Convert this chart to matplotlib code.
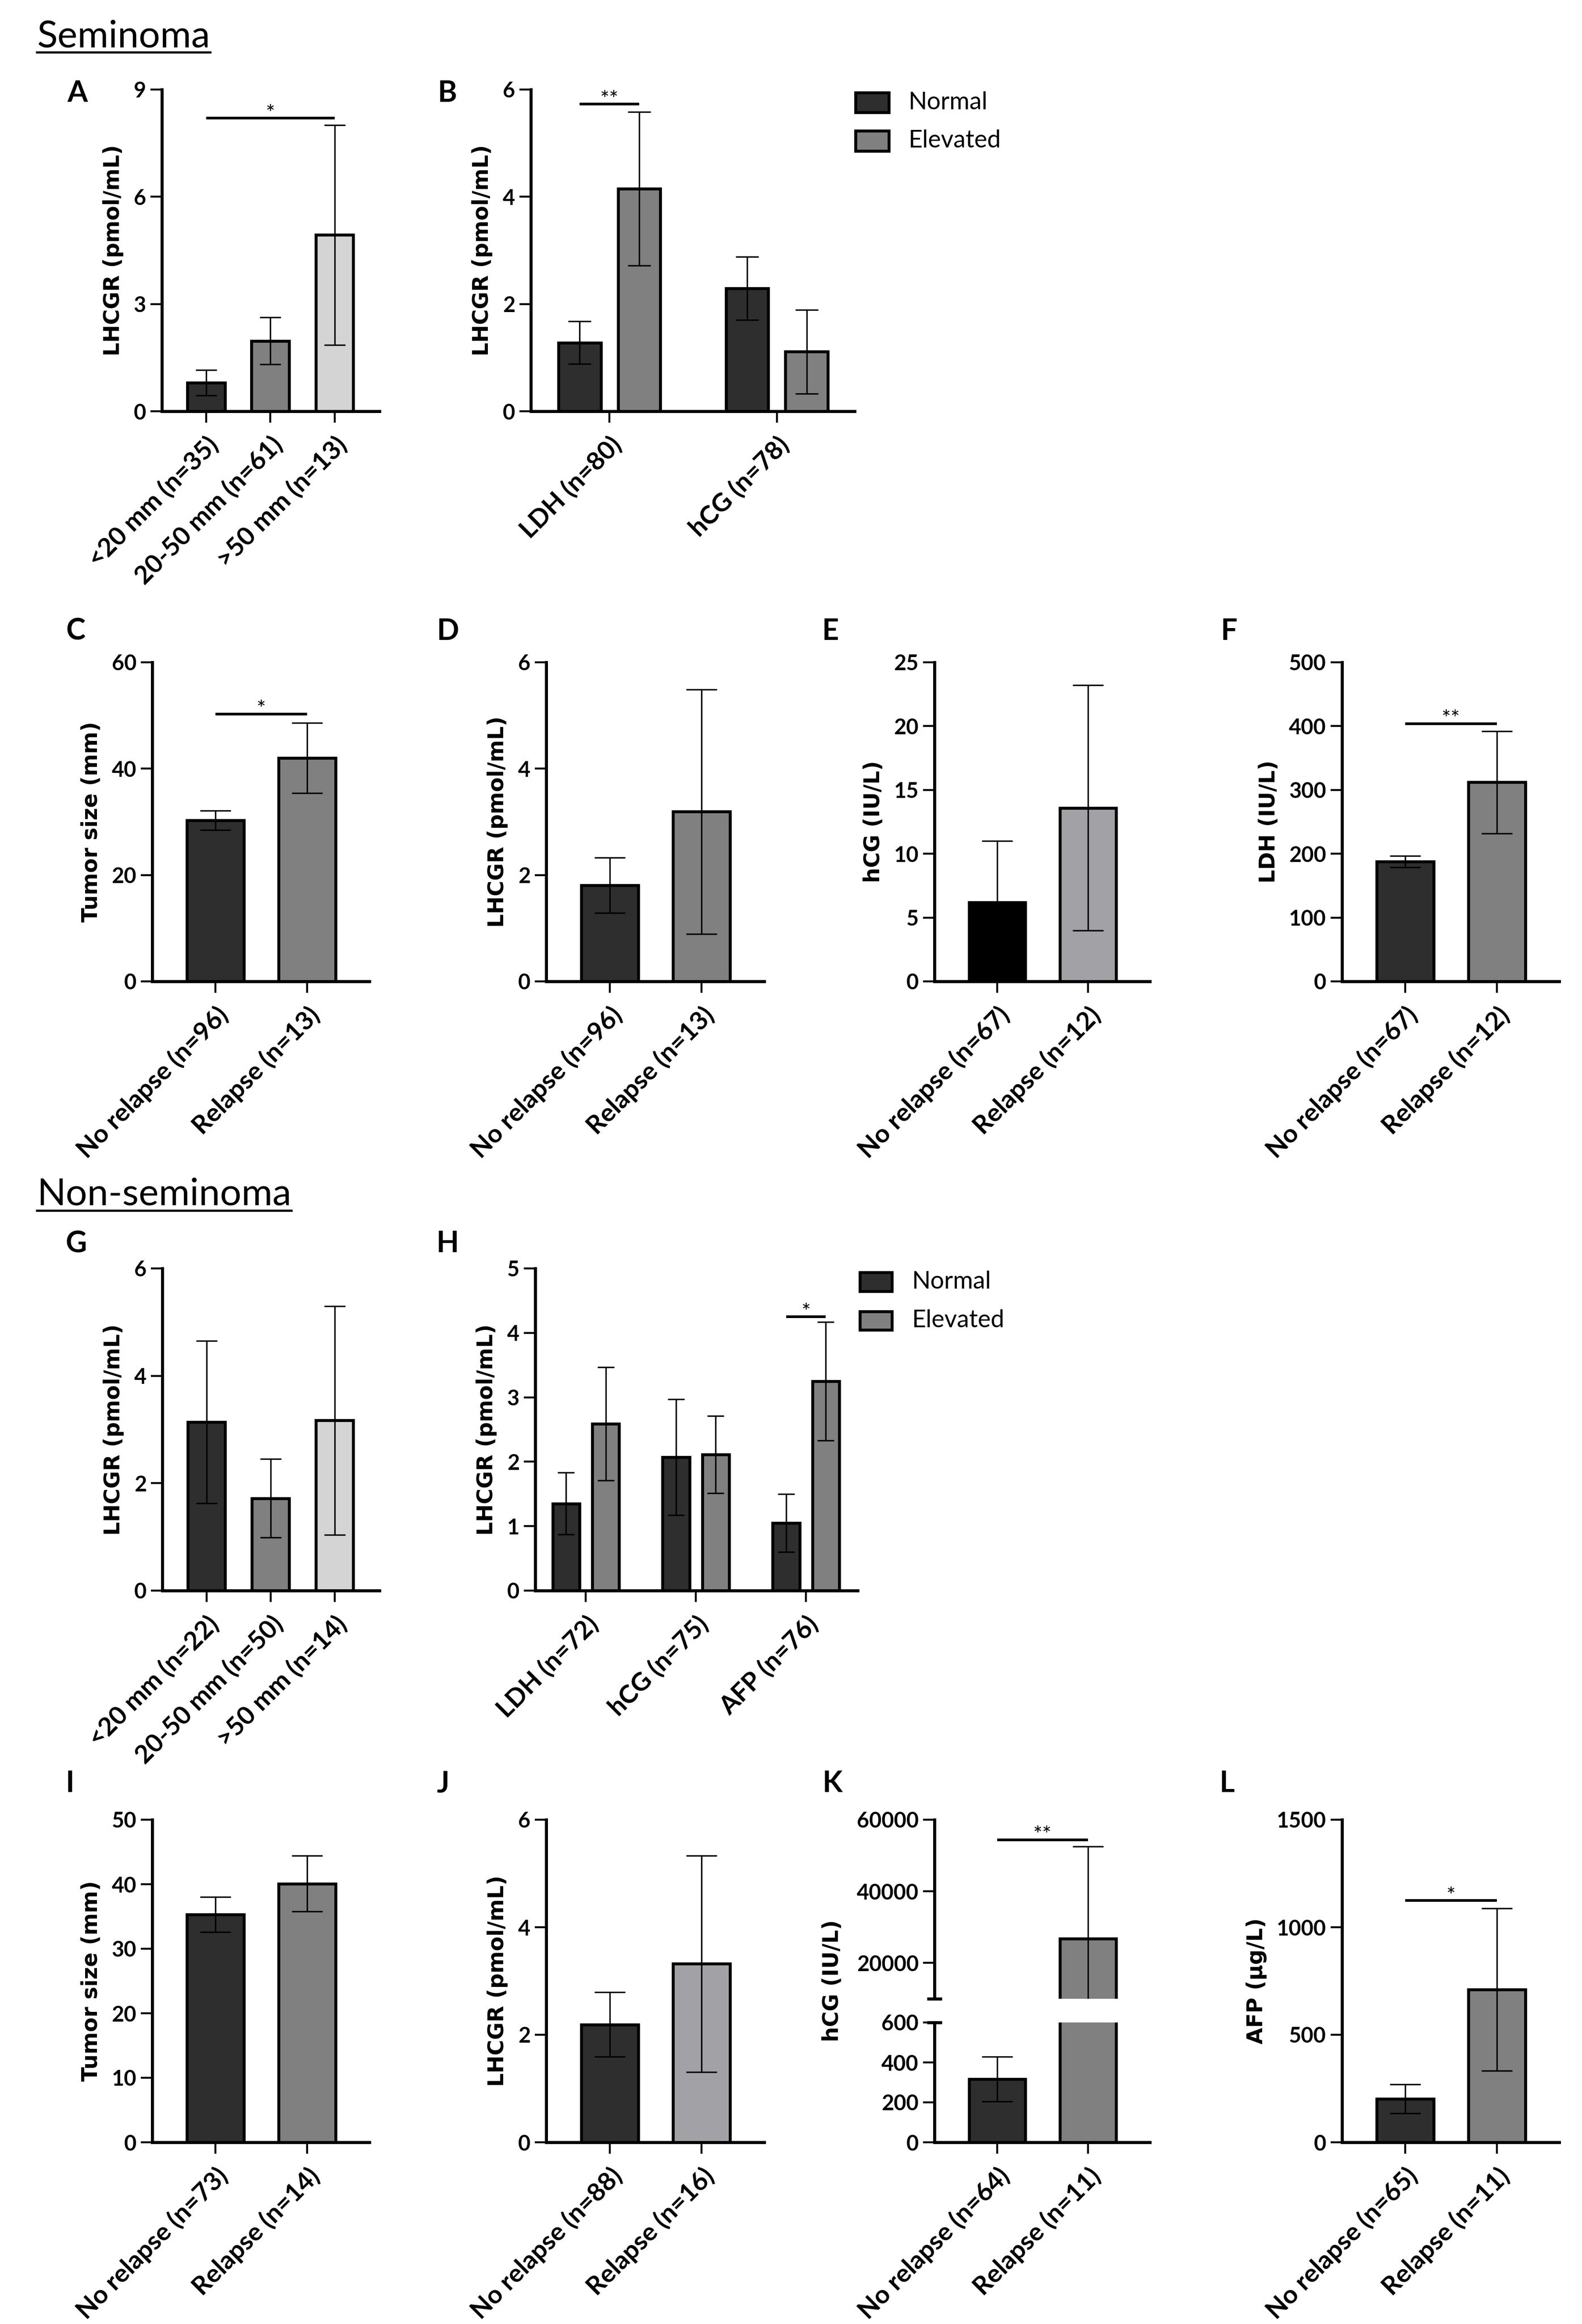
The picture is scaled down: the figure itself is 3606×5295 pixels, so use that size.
import matplotlib
matplotlib.use('Agg')
import matplotlib.pyplot as plt
from matplotlib.patches import Rectangle
from matplotlib.lines import Line2D
import numpy as np

# ------------------------------------------------------------------ data
A_cats = ['<20 mm (n=35)', '20-50 mm (n=61)', '>50 mm (n=13)']
A_mean = [0.80, 1.97, 4.93]
A_err = [0.36, 0.66, 3.08]

B_groups = ['LDH (n=80)', 'hCG (n=78)']
B_normal = [1.28, 2.29]
B_normal_err = [0.40, 0.59]
B_elev = [4.15, 1.11]
B_elev_err = [1.43, 0.78]

C_cats = ['No relapse (n=96)', 'Relapse (n=13)']
C_mean = [30.3, 42.0]
C_err = [1.8, 6.6]

D_cats = ['No relapse (n=96)', 'Relapse (n=13)']
D_mean = [1.81, 3.19]
D_err = [0.52, 2.30]

E_cats = ['No relapse (n=67)', 'Relapse (n=12)']
E_mean = [6.2, 13.6]
E_err = [4.8, 9.6]

F_cats = ['No relapse (n=67)', 'Relapse (n=12)']
F_mean = [188, 312]
F_err = [9, 80]

G_cats = ['<20 mm (n=22)', '20-50 mm (n=50)', '>50 mm (n=14)']
G_mean = [3.14, 1.72, 3.17]
G_err = [1.51, 0.73, 2.13]

H_groups = ['LDH (n=72)', 'hCG (n=75)', 'AFP (n=76)']
H_normal = [1.35, 2.07, 1.05]
H_normal_err = [0.48, 0.90, 0.45]
H_elev = [2.59, 2.11, 3.25]
H_elev_err = [0.88, 0.60, 0.92]

I_cats = ['No relapse (n=73)', 'Relapse (n=14)']
I_mean = [35.3, 40.1]
I_err = [2.7, 4.3]

J_cats = ['No relapse (n=88)', 'Relapse (n=16)']
J_mean = [2.19, 3.32]
J_err = [0.60, 2.01]

K_cats = ['No relapse (n=64)', 'Relapse (n=11)']
K_mean = [316, 26750]
K_err = [112, 25800]

L_cats = ['No relapse (n=65)', 'Relapse (n=11)']
L_mean = [202, 710]
L_err = [67, 378]

# significance: (first index, second index, y, label)
A_sig = (0, 2, 8.2, '*')
B_sig = (0, 5.73, '**')      # group index, y, label (normal vs elevated)
C_sig = (0, 1, 50.3, '*')
F_sig = (0, 1, 404, '**')
H_sig = (2, 4.25, '*')
K_sig = (0, 1, 54400, '**')
L_sig = (0, 1, 1124, '*')

legend_labels = ['Normal', 'Elevated']

# ------------------------------------------------------------------ style
W, H = 3606, 5295
DPI = 100
DARK = '#2e2e2e'
MID = '#808080'
LIGHT = '#d4d4d4'
LIGHT2 = '#a2a2a6'
BLACK = '#000000'

SPINE_LW = 5.0
BAR_LW = 4.8
EB_LW = 2.4
SIG_LW = 4.4
TICK_LEN = 19
TICK_W = 3.2

YT_FONT = dict(family='Lato', size=35, weight='bold')
XT_FONT = dict(family='Lato', size=42, weight='bold')
YL_FONT = dict(family='DejaVu Sans', size=35, weight='bold')
PANEL_FONT = dict(family='Lato', size=48, weight='bold')
STAR_FONT = dict(family='Lato', size=36)

fig = plt.figure(figsize=(W / DPI, H / DPI), dpi=DPI)
fig.patch.set_facecolor('white')


def px_axes(l, r, t, b):
    return fig.add_axes([l / W, 1 - b / H, (r - l) / W, (b - t) / H])


def finish(ax, xpos, labels, yticks, ylabel, xlim, show_x=True):
    ax.set_xlim(*xlim)
    ax.set_ylim(yticks[0], yticks[-1])
    ax.set_yticks(yticks)
    ax.set_yticklabels([f'{t:g}' for t in yticks])
    for t in ax.get_yticklabels():
        t.set_fontfamily(YT_FONT['family'])
        t.set_fontsize(YT_FONT['size'])
        t.set_fontweight(YT_FONT['weight'])
    for s in ['top', 'right']:
        ax.spines[s].set_visible(False)
    for s in ['left', 'bottom']:
        ax.spines[s].set_linewidth(SPINE_LW)
        ax.spines[s].set_capstyle('projecting')
    ax.tick_params(axis='both', direction='out', length=TICK_LEN, width=TICK_W,
                   color='black', pad=7)
    if show_x:
        ax.set_xticks(xpos)
        ax.set_xticklabels(labels, rotation=45, ha='right', va='top',
                           rotation_mode='anchor', fontfamily=XT_FONT['family'],
                           fontsize=XT_FONT['size'], fontweight=XT_FONT['weight'])
        ax.tick_params(axis='x', pad=16)
    if ylabel:
        ax.set_ylabel(ylabel, fontfamily=YL_FONT['family'], fontsize=YL_FONT['size'],
                      fontweight=YL_FONT['weight'], labelpad=16)


def sig(ax, x1, x2, y, text):
    ax.plot([x1, x2], [y, y], color='black', lw=SIG_LW, solid_capstyle='butt',
            clip_on=False, zorder=4)
    ax.annotate(text, xy=((x1 + x2) / 2, y), xytext=(0, -4),
                textcoords='offset points', ha='center', va='baseline',
                fontfamily=STAR_FONT['family'], fontsize=STAR_FONT['size'],
                annotation_clip=False)


def simple_panel(rect, cats, mean, err, colors, yticks, ylabel, width, xlim, capsize):
    ax = px_axes(*rect)
    x = np.arange(len(cats))
    ax.bar(x, mean, width=width, color=colors, edgecolor='black',
           linewidth=BAR_LW, zorder=2)
    ax.errorbar(x, mean, yerr=err, fmt='none', ecolor='black', elinewidth=EB_LW,
                capsize=capsize, capthick=EB_LW, zorder=3, clip_on=False)
    finish(ax, x, cats, yticks, ylabel, xlim)
    return ax


def grouped_panel(rect, groups, normal, normal_err, elev, elev_err, yticks, ylabel,
                  width, offset, xlim, capsize):
    ax = px_axes(*rect)
    x = np.arange(len(groups))
    ax.bar(x - offset, normal, width=width, color=DARK, edgecolor='black',
           linewidth=BAR_LW, zorder=2)
    ax.bar(x + offset, elev, width=width, color=MID, edgecolor='black',
           linewidth=BAR_LW, zorder=2)
    ax.errorbar(x - offset, normal, yerr=normal_err, fmt='none', ecolor='black',
                elinewidth=EB_LW, capsize=capsize, capthick=EB_LW, zorder=3)
    ax.errorbar(x + offset, elev, yerr=elev_err, fmt='none', ecolor='black',
                elinewidth=EB_LW, capsize=capsize, capthick=EB_LW, zorder=3)
    finish(ax, x, groups, yticks, ylabel, xlim)
    return ax


def legend(x0, y_rows, text_x):
    for (yt, yb), lab, col in zip(y_rows, legend_labels, [DARK, MID]):
        fig.add_artist(Rectangle((x0[0] / W, 1 - yb / H), (x0[1] - x0[0]) / W,
                                 (yb - yt) / H, transform=fig.transFigure,
                                 facecolor=col, edgecolor='black', lw=BAR_LW))
        fig.text(text_x / W, 1 - (yt + yb) / 2 / H, lab, ha='left', va='center',
                 fontfamily='Lato', fontsize=40)


def panel_label(x, y, s):
    fig.text(x / W, 1 - y / H, s, ha='left', va='baseline',
             fontfamily=PANEL_FONT['family'], fontsize=PANEL_FONT['size'],
             fontweight=PANEL_FONT['weight'])


def section(x, y, s):
    return fig.text(x / W, 1 - y / H, s, ha='left', va='baseline',
                    fontfamily='Lato', fontsize=62)


# ------------------------------------------------------------------ layout
ROW1 = (204, 937)
ROW2 = (1509, 2236)
ROW3 = (2890, 3624)
ROW4 = (4146, 4881)
COLS = [(347, 842), (1245, 1742), (2130, 2621), (3059, 3554)]

W3 = 0.585
XL3 = (-0.69, 2.70)
W2 = 0.62
XL2 = (-0.69, 1.68)

# Row 1
axA = simple_panel((369, 865) + ROW1, A_cats, A_mean, A_err, [DARK, MID, LIGHT],
                   [0, 3, 6, 9], 'LHCGR (pmol/mL)', W3, XL3, 17)
sig(axA, A_sig[0], A_sig[1], A_sig[2], A_sig[3])

axB = grouped_panel((1210, 1948) + ROW1, B_groups, B_normal, B_normal_err, B_elev,
                    B_elev_err, [0, 2, 4, 6], 'LHCGR (pmol/mL)', 0.253, 0.178,
                    (-0.47, 1.465), 19)
sig(axB, B_sig[0] - 0.178, B_sig[0] + 0.178, B_sig[1], B_sig[2])
legend((1950, 2026), [(211, 256), (298, 344)], 2071)

# Row 2
axC = simple_panel(COLS[0] + ROW2, C_cats, C_mean, C_err, [DARK, MID],
                   [0, 20, 40, 60], 'Tumor size (mm)', W2, XL2, 25)
sig(axC, C_sig[0], C_sig[1], C_sig[2], C_sig[3])
axD = simple_panel(COLS[1] + ROW2, D_cats, D_mean, D_err, [DARK, MID],
                   [0, 2, 4, 6], 'LHCGR (pmol/mL)', W2, XL2, 25)
axE = simple_panel(COLS[2] + ROW2, E_cats, E_mean, E_err, [BLACK, LIGHT2],
                   [0, 5, 10, 15, 20, 25], 'hCG (IU/L)', W2, XL2, 25)
axF = simple_panel(COLS[3] + ROW2, F_cats, F_mean, F_err, [DARK, MID],
                   [0, 100, 200, 300, 400, 500], 'LDH (IU/L)', W2, XL2, 25)
sig(axF, F_sig[0], F_sig[1], F_sig[2], F_sig[3])

# Row 3
axG = simple_panel((370, 865) + ROW3, G_cats, G_mean, G_err, [DARK, MID, LIGHT],
                   [0, 2, 4, 6], 'LHCGR (pmol/mL)', W3, XL3, 17)
axH = grouped_panel((1220, 1955) + ROW3, H_groups, H_normal, H_normal_err, H_elev,
                    H_elev_err, [0, 1, 2, 3, 4, 5], 'LHCGR (pmol/mL)', 0.245, 0.18,
                    (-0.46, 2.47), 13.5)
sig(axH, H_sig[0] - 0.18, H_sig[0] + 0.18, H_sig[1], H_sig[2])
legend((1960, 2033), [(2899, 2942), (2988, 3030)], 2079)

# Row 4
axI = simple_panel(COLS[0] + ROW4, I_cats, I_mean, I_err, [DARK, MID],
                   [0, 10, 20, 30, 40, 50], 'Tumor size (mm)', W2, XL2, 25)
axJ = simple_panel(COLS[1] + ROW4, J_cats, J_mean, J_err, [DARK, LIGHT2],
                   [0, 2, 4, 6], 'LHCGR (pmol/mL)', W2, XL2, 25)

# K: broken y axis
K_break_top = 4554
K_break_bot = 4608
K_top_ticks = [20000, 40000, 60000]
K_bot_ticks = [0, 200, 400, 600]
K_top_lim = (10000, 60000)
xk = np.arange(len(K_cats))
axKt = px_axes(COLS[2][0], COLS[2][1], ROW4[0], K_break_top)
axKb = px_axes(COLS[2][0], COLS[2][1], K_break_bot, ROW4[1])
for ax in (axKt, axKb):
    ax.bar(xk, K_mean, width=W2, color=[DARK, MID], edgecolor='black',
           linewidth=BAR_LW, zorder=2)
    ax.errorbar(xk, K_mean, yerr=K_err, fmt='none', ecolor='black', elinewidth=EB_LW,
                capsize=25, capthick=EB_LW, zorder=3)
finish(axKb, xk, K_cats, K_bot_ticks, None, XL2)
finish(axKt, xk, K_cats, K_top_ticks, None, XL2, show_x=False)
axKt.set_ylim(*K_top_lim)
axKt.spines['bottom'].set_visible(False)
axKt.tick_params(axis='x', length=0, labelbottom=False)
axKt.set_xticks([])
half = 17 / (COLS[2][1] - COLS[2][0])
axKt.plot([-half, half], [0, 0], transform=axKt.transAxes, color='black',
          lw=SPINE_LW, clip_on=False, solid_capstyle='butt')
axKb.plot([-half, half], [1, 1], transform=axKb.transAxes, color='black',
          lw=SPINE_LW, clip_on=False, solid_capstyle='butt')
sig(axKt, K_sig[0], K_sig[1], K_sig[2], K_sig[3])
fig.text(1897 / W, 1 - 4513 / H, 'hCG (IU/L)', rotation=90, ha='center', va='center',
         fontfamily=YL_FONT['family'], fontsize=YL_FONT['size'],
         fontweight=YL_FONT['weight'])

axL = simple_panel(COLS[3] + ROW4, L_cats, L_mean, L_err, [DARK, MID],
                   [0, 500, 1000, 1500], 'AFP (µg/L)', W2, XL2, 25)
sig(axL, L_sig[0], L_sig[1], L_sig[2], L_sig[3])

# ------------------------------------------------------------------ texts
for x, y, s in [(153, 232, 'A'), (998, 232, 'B'),
                (150, 1458, 'C'), (996, 1458, 'D'), (1874, 1458, 'E'), (2783, 1458, 'F'),
                (149, 2853, 'G'), (995, 2853, 'H'),
                (150, 4083, 'I'), (995, 4083, 'J'), (1875, 4083, 'K'), (2780, 4083, 'L')]:
    panel_label(x, y, s)

titles = [section(84, 107, 'Seminoma'), section(84, 2745, 'Non-seminoma')]
fig.canvas.draw()
r = fig.canvas.get_renderer()
for t, uy in zip(titles, [119, 2758]):
    bb = t.get_window_extent(r)
    fig.add_artist(Line2D([bb.x0 / W, bb.x1 / W], [1 - uy / H, 1 - uy / H],
                          transform=fig.transFigure, color='black', lw=3.6))

fig.savefig('out.png', dpi=DPI, facecolor='white')
